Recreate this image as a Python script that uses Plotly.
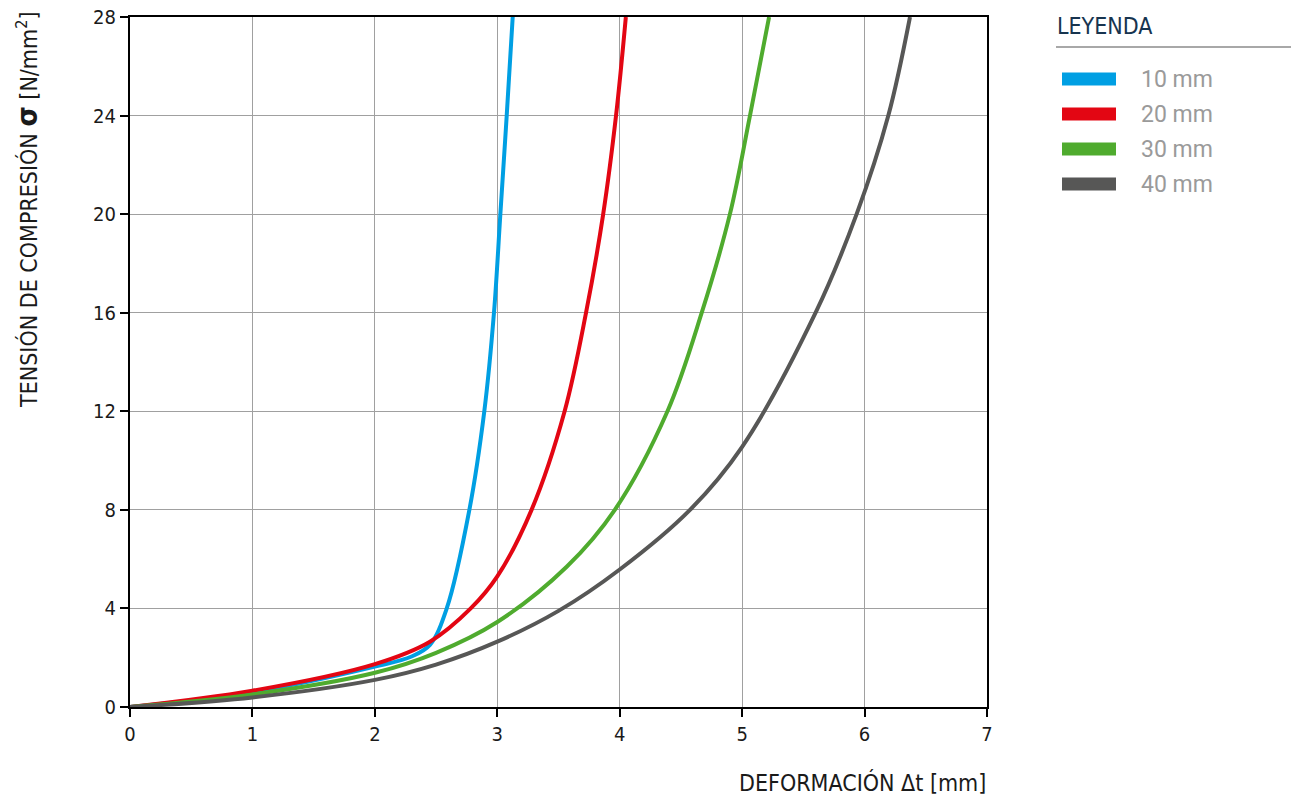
import plotly.graph_objects as go

# ---- data ----
x_10 = [0, 1.0, 2.0, 2.3, 2.45, 2.587, 2.772, 2.894, 2.973, 3.025, 3.077, 3.126]
y_10 = [0, 0.6, 1.64, 2.05, 2.52, 4.0, 8.0, 12.0, 16.0, 20.0, 24.0, 28.0]

x_20 = [0, 1.0, 2.0, 2.45, 2.783, 3.0, 3.28, 3.55, 3.725, 3.865, 3.97, 4.05]
y_20 = [0, 0.66, 1.74, 2.65, 4.0, 5.3, 8.0, 12.0, 16.0, 20.0, 24.0, 28.0]

x_30 = [0, 1.0, 2.0, 2.5, 3.0, 3.567, 3.96, 4.39, 4.67, 4.9, 5.064, 5.22]
y_30 = [0, 0.51, 1.39, 2.2, 3.45, 5.69, 8.0, 12.0, 16.0, 20.0, 24.0, 28.0]

x_40 = [0, 1.0, 2.0, 2.5, 3.0, 3.5, 4.0, 4.574, 5.0, 5.6, 5.935, 6.194, 6.371]
y_40 = [0, 0.39, 1.1, 1.72, 2.65, 3.9, 5.58, 8.0, 10.56, 16.0, 20.0, 24.0, 28.0]

names = ["10 mm", "20 mm", "30 mm", "40 mm"]
colors = ["#009fe3", "#e30613", "#4fab2e", "#575756"]
xs = [x_10, x_20, x_30, x_40]
ys = [y_10, y_20, y_30, y_40]

x_ticks = [0, 1, 2, 3, 4, 5, 6, 7]
y_ticks = [0, 4, 8, 12, 16, 20, 24, 28]

W, H = 1291, 798
ML, MR, MT, MB = 130, 304, 17, 91
PW, PH = W - ML - MR, H - MT - MB


def px(xp):
    return (xp - ML) / PW


def py(yp):
    return (H - MB - yp) / PH


FONT = "DejaVu Sans Condensed, Roboto, sans-serif"
LFONT = "Roboto, sans-serif"

fig = go.Figure()
for xv, yv, n, c in zip(xs, ys, names, colors):
    fig.add_trace(go.Scatter(x=xv, y=yv, name=n, mode="lines",
                             line=dict(color=c, width=4, shape="spline", smoothing=1.0),
                             showlegend=False))

fig.update_layout(
    width=W, height=H,
    margin=dict(l=ML, r=MR, t=MT, b=MB, autoexpand=False),
    paper_bgcolor="white", plot_bgcolor="white",
    font=dict(family=FONT, size=18, color="#1a1a1a"),
)
fig.update_xaxes(range=[0, 7], tickvals=x_ticks, ticks="outside", ticklen=8, tickwidth=2,
                 tickcolor="black", showline=True, linecolor="black", linewidth=2, mirror=True,
                 showgrid=True, gridcolor="#a0a0a0", gridwidth=1, zeroline=False, automargin=False,
                 tickfont=dict(size=20, family=FONT, color="#1a1a1a"))
fig.update_yaxes(range=[0, 28], tickvals=y_ticks, ticks="outside", ticklen=8, tickwidth=2,
                 tickcolor="black", showline=True, linecolor="black", linewidth=2, mirror=True,
                 showgrid=True, gridcolor="#a0a0a0", gridwidth=1, zeroline=False, automargin=False,
                 tickfont=dict(size=20, family=FONT, color="#1a1a1a"))

# axis titles
fig.add_annotation(text="DEFORMACIÓN Δt [mm]", xref="paper", yref="paper",
                   x=px(988), y=py(782), xanchor="right", yanchor="middle", showarrow=False,
                   font=dict(size=23, family=FONT, color="#1a1a1a"))
fig.add_annotation(text="TENSIÓN DE COMPRESIÓN <b><span style='font-size:29px'>σ</span></b> [N/mm<sup>2</sup>]",
                   xref="paper", yref="paper", x=px(27), y=py(210), textangle=-90,
                   xanchor="center", yanchor="middle", showarrow=False,
                   font=dict(size=23, family=FONT, color="#1a1a1a"))

# custom legend
fig.add_annotation(text="LEYENDA", xref="paper", yref="paper", x=px(1055), y=py(26),
                   xanchor="left", yanchor="middle", showarrow=False,
                   font=dict(size=23, family=FONT, color="#17344f"))
fig.add_shape(type="line", xref="paper", yref="paper", x0=px(1056), x1=px(1291),
              y0=py(47), y1=py(47), line=dict(color="#a8a8a8", width=2))
legend_y = [79, 114, 149, 184]
for n, c, ly in zip(names, colors, legend_y):
    fig.add_shape(type="line", xref="paper", yref="paper", x0=px(1062), x1=px(1116),
                  y0=py(ly), y1=py(ly), line=dict(color=c, width=13))
    fig.add_annotation(text=n, xref="paper", yref="paper", x=px(1139), y=py(ly),
                       xanchor="left", yanchor="middle", showarrow=False,
                       font=dict(size=23, family=LFONT, color="#9a9a9a"))

post = ("document.body.style.margin='0';document.body.style.padding='0';"
        "var d=document.getElementById('{plot_id}');"
        "d.style.position='absolute';d.style.left='0px';d.style.top='0px';")
fig.write_html("out.html", post_script=post, config={"displayModeBar": False})
